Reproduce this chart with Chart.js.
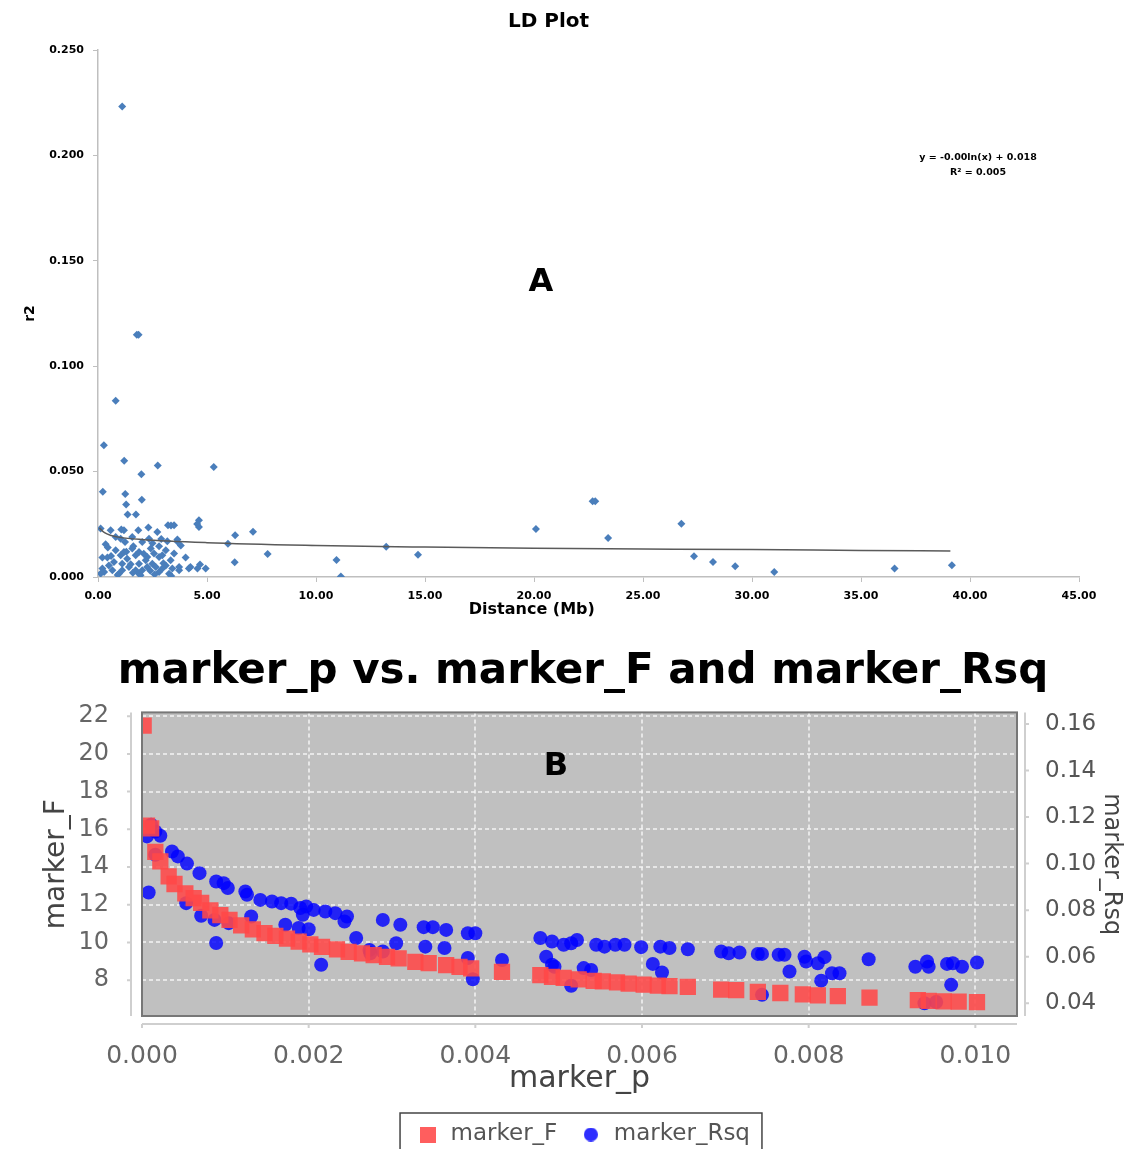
<!DOCTYPE html>
<html lang="en">
<head>
<meta charset="UTF-8">
<title>LD Plot / marker_p vs. marker_F and marker_Rsq</title>
<script src="https://cdn.jsdelivr.net/npm/chart.js"></script>
<style>
    html, body { margin: 0; padding: 0; background: #fff; overflow: hidden; }
    body { width: 1130px; height: 1149px; position: relative; }
    #ldChart { position: absolute; left: 0; top: 0; }
    #markerChart { position: absolute; left: 0; top: 640px; }
</style>
</head>
<body>
<canvas id="ldChart" width="1130" height="640"></canvas>
<canvas id="markerChart" width="1130" height="516"></canvas>

<script>
// ---- A: LD plot (distance in Mb vs r2) ----
const distance = [1.11, 1.78, 1.86, 0.81, 0.27, 1.20, 2.74, 1.99, 5.31, 0.22, 1.25, 1.29, 2.01, 1.36, 1.74,
    20.09, 22.69, 22.81, 23.40, 26.76, 27.34, 28.21, 29.23, 31.02, 36.54, 39.17,
    6.29, 7.11, 5.96, 7.78, 6.27, 10.94, 11.14, 13.22, 14.68,
    0.12, 0.58, 1.07, 1.19, 1.85, 2.31, 2.72, 3.21, 3.35, 3.49, 4.63, 4.63, 4.55,
    3.64, 3.64, 3.18, 0.81, 0.35, 1.24, 1.62, 2.03, 2.42, 2.80, 3.11, 4.02, 0.20, 0.43,
    1.04, 1.34, 1.73, 2.26, 2.80, 3.33, 0.73, 1.11, 1.88, 2.19, 2.49, 3.11, 3.72, 4.17,
    4.56, 4.94, 4.68, 4.24, 0.20, 0.28, 0.66, 0.96, 1.11, 1.73, 1.88, 2.03, 2.26, 2.80,
    2.95, 3.26, 3.41, 3.72, 0.12, 0.50, 1.42, 2.65, 1.57, 1.19, 1.88, 0.81, 2.57, 2.95,
    3.49, 2.34, 1.04, 1.57, 3.36, 1.95, 2.60, 0.90, 1.60, 2.10, 1.30, 0.60, 3.80, 2.50,
    2.90, 1.50, 2.40, 3.00, 0.45];
const r2 = [0.2232, 0.1149, 0.1149, 0.0836, 0.0625, 0.0551, 0.0529, 0.0488, 0.0522, 0.0405, 0.0394, 0.0344, 0.0366, 0.0296, 0.0296,
    0.0228, 0.0359, 0.0359, 0.0185, 0.0253, 0.0098, 0.0071, 0.0051, 0.0024, 0.0040, 0.0056,
    0.0198, 0.0215, 0.0158, 0.0109, 0.0070, 0.0081, 0.0002, 0.0143, 0.0106,
    0.0230, 0.0222, 0.0225, 0.0222, 0.0222, 0.0235, 0.0214, 0.0246, 0.0244, 0.0246, 0.0269, 0.0237, 0.0252,
    0.0178, 0.0168, 0.0170, 0.0190, 0.0155, 0.0166, 0.0146, 0.0166, 0.0135, 0.0146, 0.0127, 0.0092, 0.0092, 0.0092,
    0.0103, 0.0087, 0.0103, 0.0095, 0.0095, 0.0079, 0.0071, 0.0063, 0.0063, 0.0079, 0.0063, 0.0055, 0.0047, 0.0040,
    0.0040, 0.0040, 0.0059, 0.0047, 0.0040, 0.0024, 0.0032, 0.0016, 0.0032, 0.0032, 0.0016, 0.0032, 0.0047, 0.0024,
    0.0040, 0.0016, 0.0040, 0.0032, 0.0016, 0.0055, 0.0047, 0.0047, 0.0135, 0.0119, 0.0119, 0.0127, 0.0111, 0.0103,
    0.0111, 0.0182, 0.0182, 0.0190, 0.0005, 0.0008, 0.0012, 0.0010, 0.0020, 0.0110, 0.0120, 0.0100, 0.0150, 0.0160,
    0.0180, 0.0060, 0.0030, 0.0065, 0.0140];
// logarithmic trend line
const trendX = [0.06, 0.3, 0.6, 1, 2, 5, 10, 15, 20, 25, 30, 35, 39.1];
const trendY = [0.0233, 0.0210, 0.0197, 0.0188, 0.0178, 0.0163, 0.0150, 0.0142, 0.0136, 0.0133, 0.0130, 0.0126, 0.0123];
const ldXTicks = [0, 5, 10, 15, 20, 25, 30, 35, 40, 45];
const ldYTicks = [0, 0.05, 0.10, 0.15, 0.20, 0.25];

// ---- B: marker_p vs marker_F / marker_Rsq ----
const pF = [0.00002, 0.00006, 0.00011, 0.00016, 0.00022, 0.00032, 0.00039, 0.00052, 0.00062, 0.00071,
    0.00082, 0.00094, 0.00105, 0.00119, 0.00133, 0.00147, 0.00160, 0.00174, 0.00188, 0.00202,
    0.00216, 0.00234, 0.00248, 0.00264, 0.00278, 0.00294, 0.00308, 0.00328, 0.00344, 0.00365,
    0.00381, 0.00395, 0.00432, 0.00478, 0.00492, 0.00506, 0.00524, 0.00542, 0.00553, 0.00570,
    0.00584, 0.00602, 0.00619, 0.00633, 0.00655, 0.00695, 0.00713, 0.00739, 0.00766, 0.00793,
    0.00811, 0.00835, 0.00873, 0.00931, 0.00944, 0.00962, 0.00980, 0.01002];
const markerF = [21.5, 16.2, 16.05, 14.8, 14.3, 13.5, 13.1, 12.6, 12.35, 12.1,
    11.7, 11.45, 11.2, 10.9, 10.7, 10.5, 10.35, 10.2, 10.05, 9.9,
    9.77, 9.63, 9.5, 9.42, 9.33, 9.24, 9.15, 8.97, 8.9, 8.8,
    8.7, 8.62, 8.44, 8.27, 8.18, 8.12, 8.04, 7.96, 7.94, 7.88,
    7.82, 7.77, 7.71, 7.68, 7.64, 7.50, 7.47, 7.38, 7.32, 7.25,
    7.20, 7.15, 7.08, 6.94, 6.90, 6.88, 6.86, 6.84];
const pR = [0.00011, 0.00016, 0.00022, 0.00006, 0.00008, 0.00016, 0.00036, 0.00043, 0.00054, 0.00069,
    0.00089, 0.00098, 0.00103, 0.00124, 0.00126, 0.00142, 0.00156, 0.00167, 0.00179, 0.00190,
    0.00197, 0.00206, 0.00193, 0.00220, 0.00232, 0.00246, 0.00243, 0.00289, 0.00310, 0.00338,
    0.00349, 0.00365, 0.00391, 0.00400, 0.00478, 0.00492, 0.00506, 0.00515, 0.00522, 0.00545,
    0.00555, 0.00568, 0.00579, 0.00599, 0.00622, 0.00633, 0.00655, 0.00695, 0.00704, 0.00717,
    0.00739, 0.00744, 0.00764, 0.00771, 0.00795, 0.00797, 0.00811, 0.00819, 0.00872, 0.00928,
    0.00942, 0.00944, 0.00966, 0.00973, 0.00984, 0.01002,
    0.00053, 0.00071, 0.00087, 0.00089, 0.00104, 0.00131, 0.00172, 0.00188, 0.00200, 0.00215,
    0.00257, 0.00273, 0.00274, 0.00289, 0.00305, 0.00340, 0.00363, 0.00391, 0.00397, 0.00432,
    0.00485, 0.00492, 0.00515, 0.00495, 0.00530, 0.00539, 0.00613, 0.00624, 0.00744, 0.00777,
    0.00815, 0.00828, 0.00837, 0.00971, 0.00939, 0.00953];
const markerRsq = [0.1167, 0.1138, 0.1120, 0.1117, 0.0876, 0.1038, 0.1052, 0.1031, 0.1000, 0.0959,
    0.0923, 0.0916, 0.0895, 0.0880, 0.0866, 0.0844, 0.0837, 0.0830, 0.0828, 0.0809,
    0.0816, 0.0801, 0.0780, 0.0794, 0.0787, 0.0773, 0.0751, 0.0758, 0.0737, 0.0727,
    0.0727, 0.0715, 0.0701, 0.0701, 0.0680, 0.0665, 0.0651, 0.0658, 0.0672, 0.0651,
    0.0643, 0.0651, 0.0651, 0.0641, 0.0643, 0.0637, 0.0632, 0.0622, 0.0615, 0.0618,
    0.0612, 0.0612, 0.0608, 0.0608, 0.0600, 0.0579, 0.0572, 0.0598, 0.0589, 0.0557,
    0.0579, 0.0557, 0.0569, 0.0572, 0.0557, 0.0575,
    0.0830, 0.0776, 0.0758, 0.0659, 0.0744, 0.0773, 0.0737, 0.0723, 0.0718, 0.0565,
    0.0680, 0.0629, 0.0615, 0.0622, 0.0658, 0.0643, 0.0637, 0.0594, 0.0503, 0.0586,
    0.0600, 0.0565, 0.0475, 0.0557, 0.0551, 0.0543, 0.0569, 0.0532, 0.0436, 0.0536,
    0.0497, 0.0529, 0.0529, 0.0479, 0.0400, 0.0405];
const pTicks = [0, 0.002, 0.004, 0.006, 0.008, 0.010];
const fTicks = [8, 10, 12, 14, 16, 18, 20, 22];
const rsqTicks = [0.04, 0.06, 0.08, 0.10, 0.12, 0.14, 0.16];

const RED = 'rgba(255, 72, 72, 0.88)';
const BLUE = 'rgba(0, 0, 255, 0.82)';

const toPoints = (xs, ys) => xs.map((v, i) => ({ x: v, y: ys[i] }));
const setTicks = list => scale => { scale.ticks = list.map(v => ({ value: v })); };

// small legend markers (square bigger than the circle, like the original)
function marker(size, draw) {
    const c = document.createElement('canvas');
    c.width = size; c.height = size;
    draw(c.getContext('2d'), size);
    return c;
}
const legendSquare = marker(16, (g, s) => { g.fillStyle = RED; g.fillRect(0, 0, s, s); });
const legendCircle = marker(14, (g, s) => {
    g.fillStyle = BLUE; g.beginPath(); g.arc(s / 2, s / 2, s / 2, 0, Math.PI * 2); g.fill();
});

// text that Excel put on the LD plot
const ldNotes = {
    id: 'ldNotes',
    afterDraw(chart) {
        const { ctx, scales: { x } } = chart;
        ctx.save();
        ctx.fillStyle = '#000';
        ctx.textAlign = 'center';
        ctx.textBaseline = 'middle';
        ctx.font = 'bold 16px "DejaVu Sans"';
        ctx.fillText('Distance (Mb)', x.getPixelForValue(19.9), 610);
        ctx.font = 'bold 32px "DejaVu Sans"';
        ctx.fillText('A', 541, 283);
        ctx.font = 'bold 9.5px "DejaVu Sans"';
        ctx.fillText('y = -0.00ln(x) + 0.018', 978, 158);
        ctx.fillText('R² = 0.005', 978, 173);
        ctx.restore();
    }
};

new Chart(document.getElementById('ldChart'), {
    type: 'scatter',
    data: {
        datasets: [{
            label: 'trend',
            data: toPoints(trendX, trendY),
            showLine: true,
            borderColor: '#5a5a5a',
            borderWidth: 1.5,
            pointRadius: 0,
            cubicInterpolationMode: 'monotone'
        }, {
            label: 'r2',
            data: toPoints(distance, r2),
            pointStyle: 'rectRot',
            pointRadius: 4,
            backgroundColor: '#4a7ebb',
            borderColor: '#4a7ebb',
            borderWidth: 0
        }]
    },
    options: {
        responsive: false,
        animation: false,
        layout: { padding: { left: 18, right: 51, top: 0, bottom: 0 } },
        plugins: {
            legend: { display: false },
            tooltip: { enabled: false },
            title: {
                display: true,
                text: 'LD Plot',
                color: '#000',
                font: { family: '"DejaVu Sans"', size: 20, weight: 'bold' },
                padding: { top: 10, bottom: 16 }
            }
        },
        scales: {
            x: {
                type: 'linear', min: 0, max: 45,
                afterBuildTicks: setTicks(ldXTicks),
                afterFit: s => { s.height = 63; },
                grid: { drawOnChartArea: false, drawTicks: true, tickLength: 5, color: '#bfbfbf' },
                border: { color: '#bfbfbf', width: 1.5 },
                ticks: {
                    padding: 8, color: '#000', maxRotation: 0, autoSkip: false,
                    font: { family: '"DejaVu Sans"', size: 11, weight: 'bold' },
                    callback: v => v.toFixed(2)
                }
            },
            y: {
                min: 0, max: 0.25,
                afterBuildTicks: setTicks(ldYTicks),
                afterFit: s => { s.width = 80; },
                grid: { drawOnChartArea: false, drawTicks: true, tickLength: 5, color: '#bfbfbf' },
                border: { color: '#bfbfbf', width: 1.5 },
                ticks: {
                    padding: 9, color: '#000',
                    font: { family: '"DejaVu Sans"', size: 11, weight: 'bold' },
                    callback: v => v.toFixed(3)
                },
                title: {
                    display: true, text: 'r2', color: '#000',
                    font: { family: '"DejaVu Sans"', size: 14, weight: 'bold' }
                }
            }
        }
    },
    plugins: [ldNotes]
});

// grey plot background with dashed grid, frame, offset axis lines, "B" and legend box
const plotFrame = {
    id: 'plotFrame',
    beforeDraw(chart) {
        const { ctx, chartArea: ca, scales } = chart;
        ctx.save();
        ctx.fillStyle = '#c0c0c0';
        ctx.fillRect(ca.left, ca.top, ca.width, ca.height);

        ctx.strokeStyle = '#f4f4f4';
        ctx.lineWidth = 1.5;
        ctx.setLineDash([4, 3]);
        ctx.beginPath();
        pTicks.forEach(v => {
            const x = Math.round(scales.x.getPixelForValue(v));
            ctx.moveTo(x, ca.top); ctx.lineTo(x, ca.bottom);
        });
        fTicks.forEach(v => {
            const y = Math.round(scales.yF.getPixelForValue(v));
            ctx.moveTo(ca.left, y); ctx.lineTo(ca.right, y);
        });
        ctx.stroke();
        ctx.restore();
    },
    afterDraw(chart) {
        const { ctx, chartArea: ca, scales } = chart;
        ctx.save();
        ctx.strokeStyle = '#777';
        ctx.lineWidth = 2;
        ctx.strokeRect(ca.left, ca.top, ca.width, ca.height);

        const lx = ca.left - 11, by = ca.bottom + 8, rx = ca.right + 8;
        ctx.strokeStyle = '#cfcfcf';
        ctx.lineWidth = 2;
        ctx.beginPath();
        ctx.moveTo(lx, ca.top); ctx.lineTo(lx, ca.bottom);
        fTicks.forEach(v => {
            const y = scales.yF.getPixelForValue(v);
            ctx.moveTo(lx - 4, y); ctx.lineTo(lx, y);
        });
        ctx.moveTo(ca.left, by); ctx.lineTo(ca.right, by);
        pTicks.forEach(v => {
            const x = scales.x.getPixelForValue(v);
            ctx.moveTo(x, by); ctx.lineTo(x, by + 4);
        });
        ctx.moveTo(rx, ca.top); ctx.lineTo(rx, ca.bottom);
        rsqTicks.forEach(v => {
            const y = scales.yR.getPixelForValue(v);
            ctx.moveTo(rx, y); ctx.lineTo(rx + 4, y);
        });
        ctx.stroke();

        ctx.fillStyle = '#000';
        ctx.textAlign = 'center';
        ctx.textBaseline = 'middle';
        ctx.font = 'bold 32px "DejaVu Sans"';
        ctx.fillText('B', 556, 127);

        const hb = chart.legend.legendHitBoxes;
        if (hb && hb.length) {
            const first = hb[0], last = hb[hb.length - 1];
            const left = first.left - 16, right = last.left + last.width + 12;
            ctx.strokeStyle = '#444';
            ctx.lineWidth = 1.5;
            ctx.strokeRect(left, first.top - 10, right - left, 80);
        }
        ctx.restore();
    }
};

const tickFont = size => ({ family: '"DejaVu Sans"', size: size });

new Chart(document.getElementById('markerChart'), {
    type: 'scatter',
    data: {
        datasets: [{
            label: 'marker_F',
            data: toPoints(pF, markerF),
            yAxisID: 'yF',
            pointStyle: 'rect',
            pointRadius: 11.5,
            backgroundColor: RED,
            borderWidth: 0
        }, {
            label: 'marker_Rsq',
            data: toPoints(pR, markerRsq),
            yAxisID: 'yR',
            pointStyle: 'circle',
            pointRadius: 7,
            backgroundColor: BLUE,
            borderWidth: 0
        }]
    },
    options: {
        responsive: false,
        animation: false,
        layout: { padding: { left: 36, right: 0, top: 0, bottom: 0 } },
        plugins: {
            tooltip: { enabled: false },
            title: {
                display: true,
                text: 'marker_p vs. marker_F and marker_Rsq',
                color: '#000',
                font: { family: '"DejaVu Sans"', size: 42, weight: 'bold' },
                padding: { top: 7, bottom: 15 }
            },
            legend: {
                position: 'bottom',
                labels: {
                    usePointStyle: true,
                    boxHeight: 16,
                    padding: 22,
                    color: '#555',
                    font: tickFont(23),
                    generateLabels: chart => Chart.defaults.plugins.legend.labels.generateLabels(chart)
                        .map((item, i) => Object.assign(item, { pointStyle: i === 0 ? legendSquare : legendCircle }))
                }
            }
        },
        scales: {
            x: {
                type: 'linear', min: 0, max: 0.0105,
                afterBuildTicks: setTicks(pTicks),
                afterFit: s => { s.height = 85; },
                grid: { display: false },
                border: { display: false },
                ticks: {
                    padding: 17, color: '#666', maxRotation: 0, autoSkip: false,
                    font: tickFont(25),
                    callback: v => v.toFixed(3)
                },
                title: {
                    display: true, text: 'marker_p', color: '#444',
                    font: tickFont(30), padding: { top: 0, bottom: 4 }
                }
            },
            yF: {
                position: 'left', min: 6.1, max: 22.2,
                afterBuildTicks: setTicks(fTicks),
                afterFit: s => { s.width = 106; },
                grid: { display: false },
                border: { display: false },
                ticks: { padding: 25, color: '#666', font: tickFont(24) },
                title: { display: true, text: 'marker_F', color: '#444', font: tickFont(28) }
            },
            yR: {
                position: 'right', min: 0.0345, max: 0.165,
                afterBuildTicks: setTicks(rsqTicks),
                afterFit: s => { s.width = 113; },
                grid: { display: false },
                border: { display: false },
                ticks: {
                    padding: 20, color: '#555', font: tickFont(23),
                    callback: v => v.toFixed(2)
                },
                title: { display: true, text: 'marker_Rsq', color: '#444', font: tickFont(24) }
            }
        }
    },
    plugins: [plotFrame]
});
</script>
</body>
</html>
